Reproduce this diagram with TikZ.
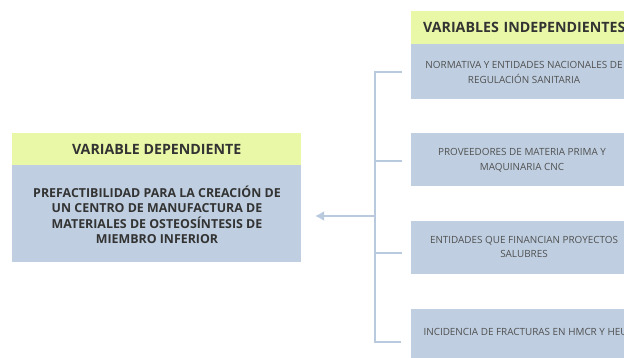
\documentclass[tikz,border=0pt]{standalone}
\usepackage{fontspec}
\setmainfont{Open Sans}
\usetikzlibrary{arrows.meta}
\definecolor{hdr}{HTML}{E8F8A6}
\definecolor{bodyc}{HTML}{BFCFE1}
\definecolor{linec}{HTML}{B9C9DE}
\definecolor{txt}{HTML}{333333}
\definecolor{ltxt}{HTML}{505050}
\tikzset{
  box/.style={anchor=north west, inner sep=0pt, minimum width=#1, text=txt},
  hdrbox/.style={box=#1, fill=hdr, font=\bfseries\fontsize{14.2}{16}\selectfont},
  bluebox/.style={box=#1, fill=bodyc},
  small/.style={align=center, text=ltxt, font=\fontsize{9.9}{14.8}\selectfont},
  conn/.style={draw=linec, line width=2.4pt},
}
\begin{document}
\begin{tikzpicture}[x=1pt,y=-1pt]
\useasboundingbox (0,0) rectangle (624,358);
\fill[white] (0,0) rectangle (624,358);
\begin{scope}
\clip (0,0) rectangle (624,358);
% left
\node[hdrbox=289pt, minimum height=32pt] (dh) at (12,133) {VARIABLE DEPENDIENTE};
\node[bluebox=289pt, minimum height=97pt] (db) at (12,165) {};
\node[align=center, text=txt, font=\bfseries\fontsize{12.4}{15.5}\selectfont] (dt) at (157,215)
  {PREFACTIBILIDAD PARA LA CREACIÓN DE\\UN CENTRO DE MANUFACTURA DE\\MATERIALES DE OSTEOSÍNTESIS DE\\MIEMBRO INFERIOR};
% right
\node[hdrbox=226pt, minimum height=33pt, text width=226pt, align=left] (ih) at (411,11) {\hspace*{12pt}VARIABLES INDEPENDIENTES};
\node[bluebox=226pt, minimum height=55pt] (b1) at (411,44) {};
\node[small] (t1) at (524,72.5) {NORMATIVA Y ENTIDADES NACIONALES DE\\REGULACIÓN SANITARIA};
\node[bluebox=226pt, minimum height=53pt] (b2) at (411,133) {};
\node[small] (t2) at (522,160.5) {PROVEEDORES DE MATERIA PRIMA Y\\MAQUINARIA CNC};
\node[bluebox=226pt, minimum height=53pt] (b3) at (411,221) {};
\node[small] (t3) at (524,247) {ENTIDADES QUE FINANCIAN PROYECTOS\\SALUBRES};
\node[bluebox=226pt, minimum height=60pt] (b4) at (411,309) {};
\node[small, anchor=west] (t4) at (420,332) {INCIDENCIA DE FRACTURAS EN HMCR Y HEU};
% bracket
\coordinate (c1) at (402,72);
\coordinate (c2) at (402,161);
\coordinate (c3) at (402,253);
\coordinate (c4) at (401,342);
\coordinate (top) at (375,72);
\coordinate (bot) at (375,342);
\coordinate (mid) at (375,216);
\coordinate (tip) at (315,216);
\draw[conn] (c1) -- (top) -- (bot) -- (c4);
\draw[conn] (375,161) -- (c2);
\draw[conn] (375,253) -- (c3);
\draw[conn, -{Latex[length=9pt,width=10pt]}] (mid) -- (tip);
\end{scope}
\end{tikzpicture}
\end{document}
